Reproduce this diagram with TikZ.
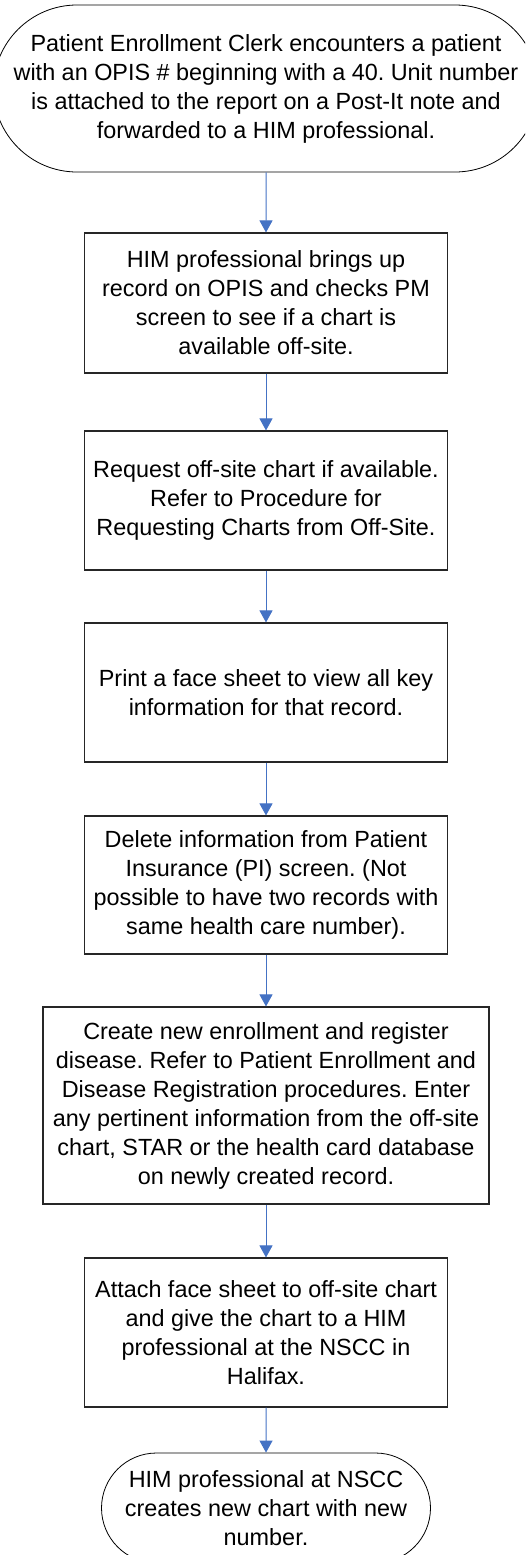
\documentclass[tikz,border=0pt]{standalone}
\usepackage{fontspec}
\setmainfont{Liberation Sans}
\usetikzlibrary{arrows.meta,shapes.misc}
\definecolor{flowblue}{HTML}{4472C4}
\frenchspacing
\tikzset{
  txt/.style={font=\fontsize{23.4}{29}\selectfont, align=center, inner sep=0pt},
  stepbox/.style={txt, rectangle, draw=black!85, line width=1.1pt, fill=white,
                  minimum width=363pt, minimum height=#1},
  terminal/.style={txt, rounded rectangle, draw=black, line width=0.8pt, fill=white},
  flow/.style={draw=flowblue, line width=1pt, -{Triangle[width=13pt,length=12pt]}}
}
\begin{document}
\begin{tikzpicture}[x=1pt,y=-1pt]
\useasboundingbox (0,0) rectangle (525,1555);
\clip (0,0) rectangle (525,1555);

% process steps
\node[terminal, minimum width=516pt, minimum height=167pt] (start) at (266,88.5)
  {Patient Enrollment Clerk encounters a patient\\with an OPIS \# beginning with a 40. Unit number\\is attached to the report on a Post-It note and\\forwarded to a HIM professional.};
\node[stepbox=140pt] (check) at (266,303)
  {HIM professional brings up\\record on OPIS and checks PM\\screen to see if a chart is\\available off-site.};
\node[stepbox=139pt] (request) at (266,500.5)
  {Request off-site chart if available.\\Refer to Procedure for\\Requesting Charts from Off-Site.};
\node[stepbox=139pt] (print) at (266,692.5)
  {Print a face sheet to view all key\\information for that record.};
\node[stepbox=138pt] (delete) at (266,885)
  {Delete information from Patient\\Insurance (PI) screen. (Not\\possible to have two records with\\same health care number).};
\node[stepbox=197pt, minimum width=446pt] (create) at (266,1105.5)
  {Create new enrollment and register\\disease. Refer to Patient Enrollment and\\Disease Registration procedures. Enter\\any pertinent information from the off-site\\chart, STAR or the health card database\\on newly created record.};
\node[stepbox=149pt] (attach) at (266,1332.5)
  {Attach face sheet to off-site chart\\and give the chart to a HIM\\professional at the NSCC in\\Halifax.};
\node[terminal, minimum width=329pt, minimum height=110pt] (finish) at (266,1508)
  {HIM professional at NSCC\\creates new chart with new\\number.};

% connectors
\draw[flow] (start) -- (check);
\draw[flow] (check) -- (request);
\draw[flow] (request) -- (print);
\draw[flow] (print) -- (delete);
\draw[flow] (delete) -- (create);
\draw[flow] (create) -- (attach);
\draw[flow] (attach) -- (finish);
\end{tikzpicture}
\end{document}
